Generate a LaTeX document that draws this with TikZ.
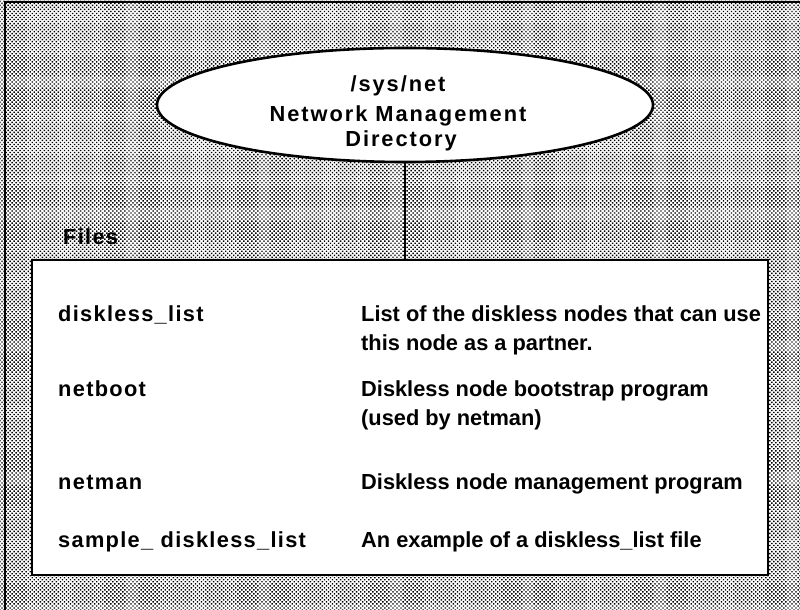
\documentclass[tikz,border=0pt]{standalone}
\usepackage{fontspec}
\setmainfont{Liberation Sans}
\newfontfamily\ellfont{Liberation Sans}[LetterSpace=9]
\newfontfamily\leftfont{Liberation Sans}[LetterSpace=6]
\usetikzlibrary{patterns.meta,shapes.geometric}
\tikzset{
  halftone/.style={pattern={Dots[radius=1.0pt,distance=2.85pt,angle=45]},pattern color=black},
  frameline/.style={line width=2.5pt},
  bubble/.style={ellipse,draw,line width=2.6pt,fill=white,minimum width=496pt,minimum height=114pt,inner sep=0pt},
  filebox/.style={draw,line width=2.2pt,fill=white},
  txt/.style={anchor=base west,inner sep=0pt,font=\bfseries\fontsize{21.8}{26}\selectfont},
  ltxt/.style={anchor=base west,inner sep=0pt,font=\leftfont\bfseries\fontsize{21.8}{26}\selectfont},
  etxt/.style={anchor=base,inner sep=0pt,font=\ellfont\bfseries\fontsize{21.8}{26}\selectfont}
}
\begin{document}
\begin{tikzpicture}[x=1pt,y=1pt]
\useasboundingbox (0,0) rectangle (800,610);
\fill[halftone] (0,0) rectangle (800,610);
\draw[frameline] (5,0) -- (5,608) -- (800,608);
\node[bubble] (ell) at (405,505) {};
\node[filebox,minimum width=736pt,minimum height=315pt,inner sep=0pt] (box) at (400,192.5) {};
\draw[line width=2pt] (ell.south) -- (ell.south |- box.north);
\node[etxt] (t1) at (398,518) {/sys/net};
\node[etxt] (t2) at (398,488) {Network Management};
\node[etxt] (t3) at (401,463) {Directory};
\node[ltxt] (files) at (63,365) {Files};
\node[ltxt] (f1) at (58,288) {diskless\_list};
\node[txt] (d1) at (361,288) {List of the diskless nodes that can use};
\node[txt] (d1b) at (361,259) {this node as a partner.};
\node[ltxt] (f2) at (58,213) {netboot};
\node[txt] (d2) at (361,213) {Diskless node bootstrap program};
\node[txt] (d2b) at (361,184) {(used by netman)};
\node[ltxt] (f3) at (58,120) {netman};
\node[txt] (d3) at (361,120) {Diskless node management program};
\node[ltxt] (f4) at (58,62) {sample\_ diskless\_list};
\node[txt] (d4) at (361,62) {An example of a diskless\_list file};
\end{tikzpicture}
\end{document}
